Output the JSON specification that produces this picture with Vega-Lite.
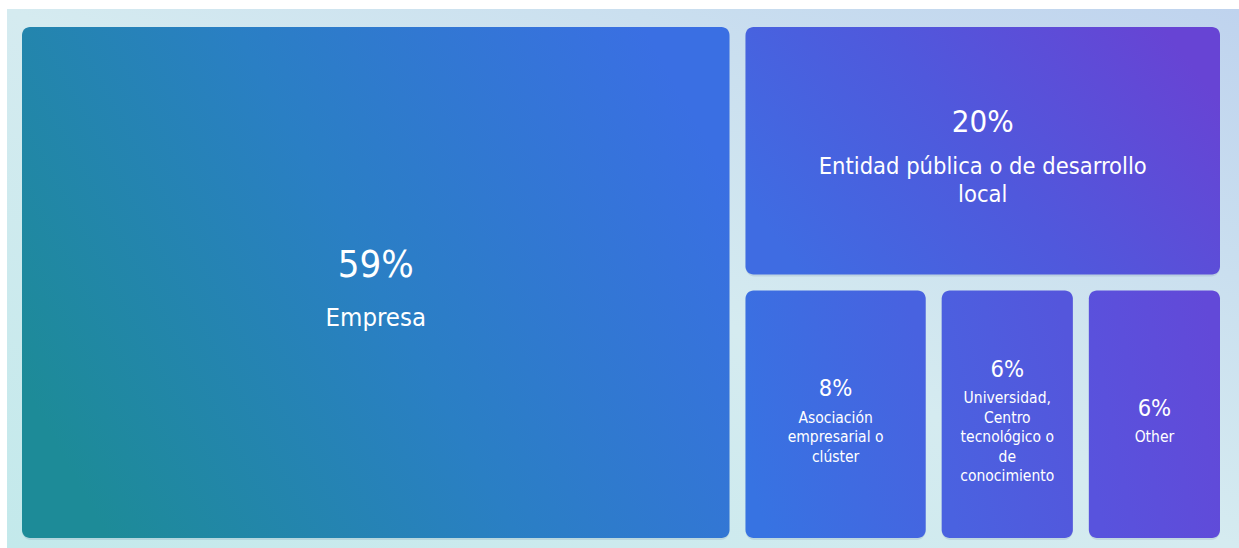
{
  "$schema": "https://vega.github.io/schema/vega-lite/v6.json",
  "width": 1214,
  "height": 527,
  "padding": {"left": 14, "top": 19, "right": 11, "bottom": 2},
  "autosize": {"type": "none"},
  "background": "#ffffff",
  "config": {"view": {"stroke": null}},
  "data": {"values": [
    {"name": "Empresa", "label": "Empresa", "share": 0.59, "col": "A", "row": "1", "order": 1},
    {"name": "Entidad pública o de desarrollo local", "label": "Entidad pública o de desarrollo\nlocal", "share": 0.20, "col": "B", "row": "1", "order": 2},
    {"name": "Asociación empresarial o clúster", "label": "Asociación\nempresarial o\nclúster", "share": 0.08, "col": "B", "row": "2", "order": 3},
    {"name": "Universidad, Centro tecnológico o de conocimiento", "label": "Universidad,\nCentro\ntecnológico o\nde\nconocimiento", "share": 0.06, "col": "B", "row": "2", "order": 4},
    {"name": "Other", "label": "Other", "share": 0.06, "col": "B", "row": "2", "order": 5}
  ]},
  "transform": [
    {"joinaggregate": [{"op": "sum", "field": "share", "as": "colSum"}], "groupby": ["col"]},
    {"joinaggregate": [{"op": "sum", "field": "share", "as": "rowSum"}], "groupby": ["col", "row"]},
    {"stack": "share", "groupby": [], "sort": [{"field": "order", "order": "ascending"}], "as": ["s0", "s1"]},
    {"joinaggregate": [{"op": "min", "field": "s0", "as": "colStart"}], "groupby": ["col"]},
    {"joinaggregate": [{"op": "min", "field": "s0", "as": "rowStart"}], "groupby": ["col", "row"]},
    {"calculate": "datum.colStart + (datum.s0 - datum.rowStart) / datum.rowSum * datum.colSum", "as": "x0"},
    {"calculate": "datum.colStart + (datum.s1 - datum.rowStart) / datum.rowSum * datum.colSum", "as": "x1"},
    {"calculate": "(datum.rowStart - datum.colStart) / datum.colSum", "as": "y0"},
    {"calculate": "(datum.rowStart - datum.colStart + datum.rowSum) / datum.colSum", "as": "y1"},
    {"calculate": "(datum.x0 + datum.x1) / 2", "as": "xc"},
    {"calculate": "(datum.y0 + datum.y1) / 2", "as": "yc"},
    {"calculate": "length(split(datum.label, '\\n'))", "as": "nLines"}
  ],
  "resolve": {"scale": {"size": "independent"}},
  "layer": [
    {
      "mark": {
        "type": "rect",
        "xOffset": -7, "x2Offset": 11, "yOffset": -10, "y2Offset": 2,
        "fill": {"gradient": "linear", "x1": 0, "y1": 1, "x2": 1, "y2": 0,
          "stops": [{"offset": 0, "color": "#c3e9eb"}, {"offset": 0.5, "color": "#d5ebf0"}, {"offset": 1, "color": "#bfd3ee"}]}
      },
      "encoding": {
        "x": {"aggregate": "min", "field": "x0", "type": "quantitative", "scale": {"nice": false, "zero": false}, "axis": null},
        "x2": {"aggregate": "max", "field": "x1"},
        "y": {"aggregate": "min", "field": "y0", "type": "quantitative", "scale": {"nice": false, "zero": false, "reverse": true}, "axis": null},
        "y2": {"aggregate": "max", "field": "y1"}
      }
    },
    {
      "mark": {"type": "rect", "xOffset": 8, "x2Offset": -8, "yOffset": 10, "y2Offset": -6, "cornerRadius": 9, "fill": "#1c2f66", "opacity": 0.1},
      "encoding": {
        "x": {"field": "x0", "type": "quantitative", "scale": {"nice": false, "zero": false}, "axis": null},
        "x2": {"field": "x1"},
        "y": {"field": "y0", "type": "quantitative", "scale": {"nice": false, "zero": false, "reverse": true}, "axis": null},
        "y2": {"field": "y1"}
      }
    },
    {
      "transform": [{"filter": "datum.order == 1"}],
      "mark": {"type": "rect", "xOffset": 8, "x2Offset": -8, "yOffset": 8, "y2Offset": -8, "cornerRadius": 8,
        "fill": {"gradient": "linear", "x1": 0, "y1": 0.7, "x2": 1, "y2": 0.3,
          "stops": [{"offset": 0, "color": "#1d8b98"}, {"offset": 0.5, "color": "#2a7fc4"}, {"offset": 1, "color": "#3a6fe3"}]}},
      "encoding": {
        "x": {"field": "x0", "type": "quantitative", "scale": {"nice": false, "zero": false}, "axis": null},
        "x2": {"field": "x1"},
        "y": {"field": "y0", "type": "quantitative", "scale": {"nice": false, "zero": false, "reverse": true}, "axis": null},
        "y2": {"field": "y1"}
      }
    },
    {
      "transform": [{"filter": "datum.order == 2"}],
      "mark": {"type": "rect", "xOffset": 8, "x2Offset": -8, "yOffset": 8, "y2Offset": -8, "cornerRadius": 8,
        "fill": {"gradient": "linear", "x1": 0, "y1": 0.7, "x2": 1, "y2": 0.3,
          "stops": [{"offset": 0, "color": "#3f6ce2"}, {"offset": 0.5, "color": "#5058dc"}, {"offset": 1, "color": "#6744d4"}]}},
      "encoding": {
        "x": {"field": "x0", "type": "quantitative", "scale": {"nice": false, "zero": false}, "axis": null},
        "x2": {"field": "x1"},
        "y": {"field": "y0", "type": "quantitative", "scale": {"nice": false, "zero": false, "reverse": true}, "axis": null},
        "y2": {"field": "y1"}
      }
    },
    {
      "transform": [{"filter": "datum.order == 3"}],
      "mark": {"type": "rect", "xOffset": 8, "x2Offset": -8, "yOffset": 8, "y2Offset": -8, "cornerRadius": 8,
        "fill": {"gradient": "linear", "x1": 0, "y1": 0.7, "x2": 1, "y2": 0.3,
          "stops": [{"offset": 0, "color": "#3773e2"}, {"offset": 1, "color": "#4862e0"}]}},
      "encoding": {
        "x": {"field": "x0", "type": "quantitative", "scale": {"nice": false, "zero": false}, "axis": null},
        "x2": {"field": "x1"},
        "y": {"field": "y0", "type": "quantitative", "scale": {"nice": false, "zero": false, "reverse": true}, "axis": null},
        "y2": {"field": "y1"}
      }
    },
    {
      "transform": [{"filter": "datum.order == 4"}],
      "mark": {"type": "rect", "xOffset": 8, "x2Offset": -8, "yOffset": 8, "y2Offset": -8, "cornerRadius": 8,
        "fill": {"gradient": "linear", "x1": 0, "y1": 0.7, "x2": 1, "y2": 0.3,
          "stops": [{"offset": 0, "color": "#4a62e0"}, {"offset": 1, "color": "#5456dc"}]}},
      "encoding": {
        "x": {"field": "x0", "type": "quantitative", "scale": {"nice": false, "zero": false}, "axis": null},
        "x2": {"field": "x1"},
        "y": {"field": "y0", "type": "quantitative", "scale": {"nice": false, "zero": false, "reverse": true}, "axis": null},
        "y2": {"field": "y1"}
      }
    },
    {
      "transform": [{"filter": "datum.order == 5"}],
      "mark": {"type": "rect", "xOffset": 8, "x2Offset": -8, "yOffset": 8, "y2Offset": -8, "cornerRadius": 8,
        "fill": {"gradient": "linear", "x1": 0, "y1": 0.7, "x2": 1, "y2": 0.3,
          "stops": [{"offset": 0, "color": "#5853dd"}, {"offset": 1, "color": "#6249d8"}]}},
      "encoding": {
        "x": {"field": "x0", "type": "quantitative", "scale": {"nice": false, "zero": false}, "axis": null},
        "x2": {"field": "x1"},
        "y": {"field": "y0", "type": "quantitative", "scale": {"nice": false, "zero": false, "reverse": true}, "axis": null},
        "y2": {"field": "y1"}
      }
    },
    {
      "mark": {"type": "text", "color": "#ffffff", "font": "DejaVu Sans Condensed, DejaVu Sans", "align": "center", "baseline": "alphabetic",
        "dy": {"expr": "datum.share >= 0.4 ? 19 - (49 + (datum.nLines - 1) * 30.6) / 2 : datum.share >= 0.15 ? 16.5 - (42 + (datum.nLines - 1) * 28) / 2 : 14.5 - (26.5 + (datum.nLines - 1) * 19.5) / 2"}},
      "encoding": {
        "x": {"field": "xc", "type": "quantitative", "scale": {"nice": false, "zero": false}, "axis": null},
        "y": {"field": "yc", "type": "quantitative", "scale": {"nice": false, "zero": false, "reverse": true}, "axis": null},
        "text": {"field": "share", "type": "quantitative", "format": ".0%"},
        "size": {"field": "share", "type": "quantitative", "scale": {"type": "threshold", "domain": [0.15, 0.4], "range": [23.5, 31, 38]}, "legend": null}
      }
    },
    {
      "mark": {"type": "text", "color": "#ffffff", "font": "DejaVu Sans Condensed, DejaVu Sans", "align": "center", "baseline": "alphabetic", "lineBreak": "\n",
        "lineHeight": {"expr": "datum.share >= 0.4 ? 30.6 : datum.share >= 0.15 ? 28 : 19.5"},
        "dy": {"expr": "datum.share >= 0.4 ? 19 - (49 + (datum.nLines - 1) * 30.6) / 2 + 49 : datum.share >= 0.15 ? 16.5 - (42 + (datum.nLines - 1) * 28) / 2 + 42 : 14.5 - (26.5 + (datum.nLines - 1) * 19.5) / 2 + 26.5"}},
      "encoding": {
        "x": {"field": "xc", "type": "quantitative", "scale": {"nice": false, "zero": false}, "axis": null},
        "y": {"field": "yc", "type": "quantitative", "scale": {"nice": false, "zero": false, "reverse": true}, "axis": null},
        "text": {"field": "label", "type": "nominal"},
        "size": {"field": "share", "type": "quantitative", "scale": {"type": "threshold", "domain": [0.15, 0.4], "range": [15.5, 23.5, 25.5]}, "legend": null}
      }
    }
  ]
}
